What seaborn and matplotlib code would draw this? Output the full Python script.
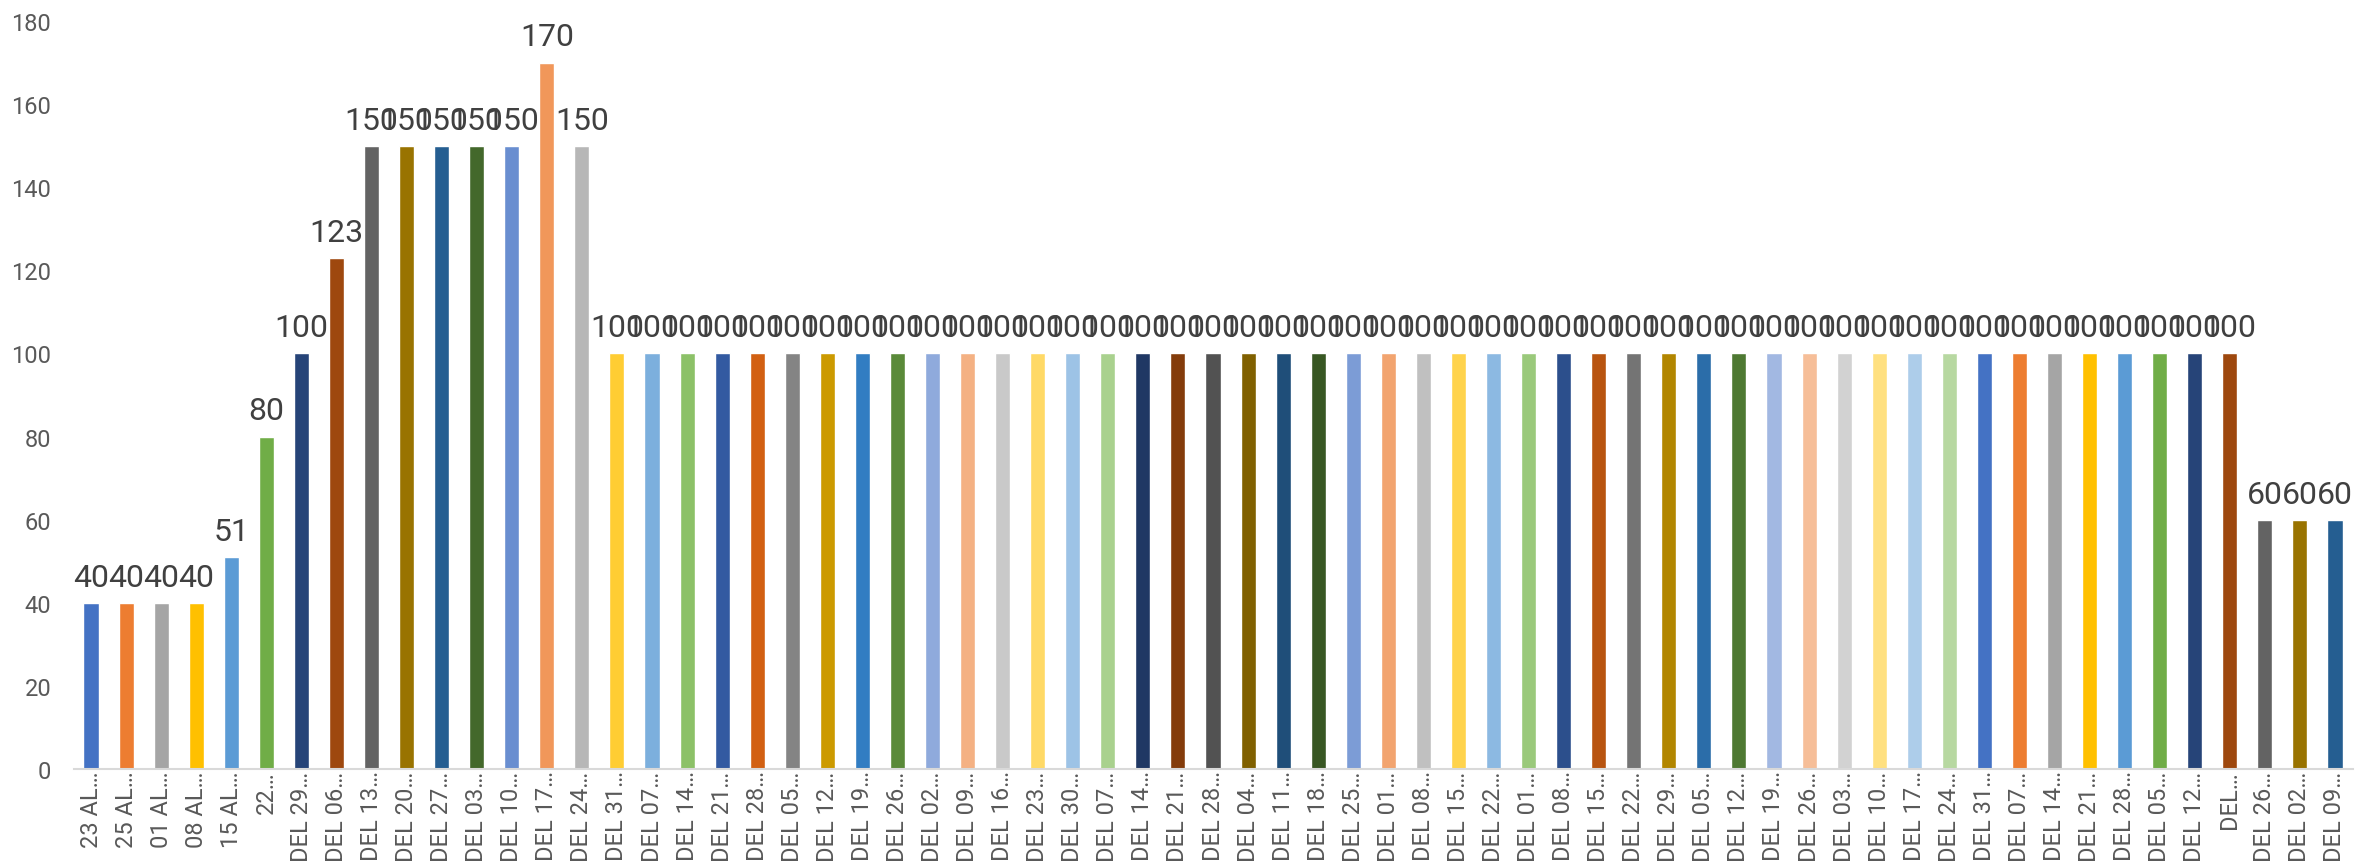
import colorsys
import matplotlib
matplotlib.use("Agg")
import matplotlib.pyplot as plt
import matplotlib.colors as mcolors
import seaborn as sns
import pandas as pd

# ---- data ----
labels = [
    "23 AL…", "25 AL…", "01 AL…", "08 AL…", "15 AL…", "22…",
    "DEL 29…", "DEL 06…", "DEL 13…", "DEL 20…", "DEL 27…", "DEL 03…",
    "DEL 10…", "DEL 17…", "DEL 24…", "DEL 31…", "DEL 07…", "DEL 14…",
    "DEL 21…", "DEL 28…", "DEL 05…", "DEL 12…", "DEL 19…", "DEL 26…",
    "DEL 02…", "DEL 09…", "DEL 16…", "DEL 23…", "DEL 30…", "DEL 07…",
    "DEL 14…", "DEL 21…", "DEL 28…", "DEL 04…", "DEL 11…", "DEL 18…",
    "DEL 25…", "DEL 01…", "DEL 08…", "DEL 15…", "DEL 22…", "DEL 01…",
    "DEL 08…", "DEL 15…", "DEL 22…", "DEL 29…", "DEL 05…", "DEL 12…",
    "DEL 19…", "DEL 26…", "DEL 03…", "DEL 10…", "DEL 17…", "DEL 24…",
    "DEL 31…", "DEL 07…", "DEL 14…", "DEL 21…", "DEL 28…", "DEL 05…",
    "DEL 12…", "DEL…", "DEL 26…", "DEL 02…", "DEL 09…",
]
values = [
    40, 40, 40, 40, 51, 80,
    100, 123, 150, 150, 150, 150,
    150, 170, 150, 100, 100, 100,
    100, 100, 100, 100, 100, 100,
    100, 100, 100, 100, 100, 100,
    100, 100, 100, 100, 100, 100,
    100, 100, 100, 100, 100, 100,
    100, 100, 100, 100, 100, 100,
    100, 100, 100, 100, 100, 100,
    100, 100, 100, 100, 100, 100,
    100, 100, 60, 60, 60,
]
yticks = [0, 20, 40, 60, 80, 100, 120, 140, 160, 180]

# ---- palette (Office accents with Excel's "vary colors" luminance steps) ----
accents = ["#4472C4", "#ED7D31", "#A5A5A5", "#FFC000", "#5B9BD5", "#70AD47"]
lum_steps = [(1.0, 0.0), (0.6, 0.0), (0.8, 0.2), (0.8, 0.0), (0.6, 0.4),
             (0.5, 0.0), (0.7, 0.3), (0.7, 0.0), (0.5, 0.5)]


def vary(hex_color, mod, off):
    r, g, b = mcolors.to_rgb(hex_color)
    h, l, s = colorsys.rgb_to_hls(r, g, b)
    l = min(1.0, l * mod + off)
    return mcolors.to_hex(colorsys.hls_to_rgb(h, l, s))


bar_colors = []
for i in range(len(values)):
    mod, off = lum_steps[(i // 6) % len(lum_steps)]
    bar_colors.append(vary(accents[i % 6], mod, off))

slots = [f"s{i:02d}" for i in range(len(values))]
df = pd.DataFrame({"slot": slots, "value": values})
palette = dict(zip(slots, bar_colors))

# ---- figure ----
sns.set_theme(style="white")
plt.rcParams["font.family"] = ["Roboto", "DejaVu Sans"]

W, H, DPI = 2356, 862, 100
fig = plt.figure(figsize=(W / DPI, H / DPI), dpi=DPI)
ax = fig.add_axes([73.5 / W, 92 / H, (2352.5 - 73.5) / W, (770 - 22) / H])

sns.barplot(data=df, x="slot", y="value", hue="slot", palette=palette,
            order=slots, hue_order=slots, dodge=False, legend=False,
            width=0.43, saturation=1, ax=ax, errorbar=None)

for cont in ax.containers:
    ax.bar_label(cont, fmt="%d", padding=8, fontsize=23, color="#404040")

ax.set_xlim(-0.5, len(values) - 0.5)
ax.set_ylim(0, 180)
ax.set_yticks(yticks)
ax.set_yticklabels([str(t) for t in yticks], fontsize=17, color="#595959")
ax.set_xticks(range(len(values)))
ax.set_xticklabels(labels, rotation=90, fontsize=17, color="#595959")
ax.tick_params(axis="y", length=0, pad=16)
ax.tick_params(axis="x", length=0, pad=1)
ax.set_xlabel("")
ax.set_ylabel("")
for side in ("left", "top", "right"):
    ax.spines[side].set_visible(False)
ax.spines["bottom"].set_color("#D9D9D9")
ax.spines["bottom"].set_linewidth(1.5)
ax.grid(False)

fig.savefig("out.png", dpi=DPI)
